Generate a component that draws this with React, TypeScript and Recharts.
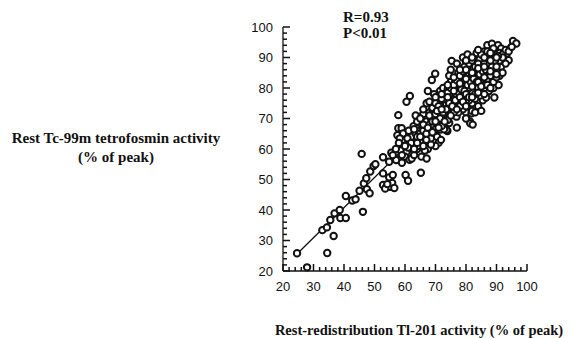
import React from "react";
import { ScatterChart, Scatter, XAxis, YAxis, ReferenceLine } from "recharts";

// Axis ticks (every 2 units, labels every 10)
const axisTicks = [20, 22, 24, 26, 28, 30, 32, 34, 36, 38, 40, 42, 44, 46, 48, 50, 52, 54, 56, 58, 60, 62, 64, 66, 68, 70, 72, 74, 76, 78, 80, 82, 84, 86, 88, 90, 92, 94, 96, 98, 100];

// Regression line end points
const fitX = [25, 96];
const fitY = [26, 96];

// [Tl-201, Tc-99m] pairs
const lowPoints: [number, number][] = [
  [24.6, 25.8], [27.9, 21.2], [34.5, 25.9], [36.6, 31.5], [32.9, 33.4], [34.4, 34.3], [35.5, 36.7],
  [36.9, 38.9], [38.6, 40.0], [38.8, 37.4], [40.6, 37.4], [46.2, 39.4], [40.6, 44.6], [42.7, 43.1],
  [43.8, 43.5], [45.1, 46.3], [46.5, 48.7], [47.5, 46.8], [48.4, 45.5], [47.3, 50.4], [48.6, 52.6],
  [49.7, 54.4], [45.8, 58.4], [52.8, 48.2], [53.9, 47.6], [55.2, 47.6], [55.8, 48.9], [54.8, 50.7],
  [52.8, 52.0], [52.8, 57.3], [55.5, 58.8], [54.8, 55.8], [57.1, 56.4], [58.8, 57.5], [60.2, 51.5],
  [61.0, 49.6], [50.3, 55.0], [53.5, 47.0], [56.0, 51.5], [54.2, 48.5], [56.5, 47.2],
];

const midPoints: [number, number][] = [
  [57.5, 64.5], [57.8, 66.8], [58.9, 66.8], [59.4, 65.1], [58.3, 63.5], [57.8, 71.1], [60.5, 75.5],
  [61.6, 77.4], [59.5, 61.0], [60.5, 59.0], [61.0, 62.0], [62.0, 64.0], [62.5, 60.0], [60.0, 57.5],
  [61.5, 56.5], [58.5, 59.5], [62.2, 56.9], [63.0, 58.0], [59.0, 55.5], [61.2, 66.0], [62.8, 67.5],
  [63.5, 65.0], [60.8, 63.5], [63.5, 62.0], [64.0, 60.0], [64.5, 63.5], [65.0, 66.0], [65.5, 68.0],
  [64.0, 69.0], [63.5, 71.0], [66.0, 71.5], [66.5, 64.0], [67.0, 62.0], [67.5, 60.0], [65.4, 57.5],
  [67.1, 56.9], [66.5, 59.5], [68.0, 65.0], [68.5, 67.5], [67.0, 69.0], [68.0, 72.0], [67.1, 75.0],
  [69.0, 73.0], [69.5, 70.0], [64.8, 65.0], [66.0, 66.5], [65.2, 52.2], [68.8, 82.6], [69.9, 84.7],
  [68.0, 75.5], [67.5, 79.0], [69.5, 78.0], [70.0, 68.0], [70.5, 64.0], [71.0, 62.0], [71.5, 66.4],
  [72.0, 70.0], [72.5, 73.0], [73.0, 75.0], [73.9, 65.9], [73.6, 66.2], [72.0, 69.0], [74.0, 71.0],
  [74.5, 74.0], [70.0, 72.0], [71.0, 76.0], [71.5, 79.0], [72.5, 80.0], [73.5, 77.0], [74.0, 79.5],
  [75.0, 82.0], [75.3, 88.9], [75.0, 86.0], [74.5, 84.0], [75.5, 76.0], [75.0, 72.0], [73.0, 68.0],
  [74.5, 68.5], [70.5, 74.0], [72.8, 66.5], [71.8, 63.0], [70.0, 61.0], [72.0, 72.0], [73.5, 71.0],
  [69.8, 66.0], [66.2, 62.5], [64.2, 61.0], [62.0, 60.5], [68.5, 61.5], [70.8, 70.5], [71.2, 72.8],
];

const highPoints: [number, number][] = [
  [76.0, 78.0], [76.9, 70.6], [77.0, 74.0], [77.5, 80.0], [78.0, 83.0], [78.5, 86.0], [77.0, 88.0],
  [79.0, 79.0], [79.5, 75.0], [80.0, 72.0], [80.5, 77.0], [81.0, 81.0], [81.8, 71.7], [81.3, 69.0],
  [81.4, 68.4], [82.2, 68.0], [82.0, 75.0], [82.5, 78.0], [81.0, 85.0], [80.0, 88.0], [79.0, 90.0],
  [80.5, 91.0], [76.5, 82.0], [78.0, 76.0], [79.0, 73.0], [80.0, 70.0], [82.0, 83.0], [81.5, 87.0],
  [77.5, 85.0], [78.5, 81.0], [80.0, 84.0], [76.0, 74.0], [77.0, 67.0], [79.0, 84.5], [81.0, 76.0],
  [82.0, 72.5], [83.0, 80.0], [83.5, 84.0], [84.0, 86.0], [84.5, 82.0], [85.0, 79.0], [85.5, 76.0],
  [84.0, 74.0], [83.0, 72.0], [86.0, 83.0], [86.5, 87.0], [87.0, 90.0], [86.6, 76.9], [89.3, 76.9],
  [88.0, 85.0], [88.5, 82.0], [89.0, 80.0], [87.5, 79.0], [85.0, 89.0], [84.0, 91.0], [86.0, 92.0],
  [88.0, 93.0], [89.0, 91.0], [89.5, 88.0], [90.0, 86.0], [87.0, 84.0], [85.5, 84.5], [83.5, 88.0],
  [84.5, 77.5], [86.0, 80.0], [88.0, 88.0], [90.0, 93.0], [90.5, 90.0], [90.7, 81.0], [91.0, 84.0],
  [91.5, 87.0], [92.0, 89.0], [92.5, 92.0], [93.4, 91.3], [94.0, 89.1], [95.4, 95.4], [96.5, 94.6],
  [91.0, 90.0], [92.0, 85.0], [93.0, 88.0], [90.5, 94.0], [91.5, 93.0], [87.0, 94.0], [88.5, 94.5],
  [83.0, 76.5], [85.0, 72.5], [87.5, 82.0], [89.5, 84.0], [86.0, 89.5], [78.0, 78.5], [80.5, 80.0],
  [82.5, 86.5], [84.5, 89.5], [77.5, 72.0], [79.5, 87.0], [83.5, 91.5], [89.0, 86.5], [90.0, 89.0],
];

const corePoints: [number, number][] = [
  [66, 66], [67, 67.5], [68, 68], [68.5, 70], [69, 69], [69.5, 71.5], [70, 70], [70.5, 69], [71, 71],
  [71.5, 73], [72, 74], [72.5, 71], [73, 73], [73.5, 74.5], [74, 76], [74.5, 72.5], [75, 75], [75.5, 78],
  [76, 76], [76.5, 77.5], [77, 79], [77.5, 77], [78, 80], [78.5, 78], [79, 81], [79.5, 82.5], [80, 80],
  [80.5, 82], [81, 83], [81.5, 80.5], [82, 81.5], [82.5, 84], [83, 83], [83.5, 85], [84, 84], [84.5, 86],
  [85, 85], [85.5, 87], [86, 86], [86.5, 84], [87, 88], [87.5, 86.5], [88, 87], [88.5, 89], [89, 88],
  [89.5, 90], [90, 91], [90.5, 88.5], [91, 91.5], [91.5, 90], [92, 91], [93, 92.5], [94, 92], [95, 93.5],
  [69, 67], [70, 66.5], [71, 68], [72, 67.5], [73, 70], [74, 69.5], [75, 73], [76, 72], [77, 76], [78, 74],
  [79, 77], [80, 76], [81, 78.5], [82, 79], [83, 81.5], [84, 80], [85, 82], [86, 81], [87, 83], [88, 84],
  [89, 82], [90, 83.5], [68, 71], [69, 73.5], [70, 75], [71, 74], [72, 76.5], [73, 78], [74, 78.5],
  [75, 80], [76, 81], [77, 82.5], [78, 84], [79, 85.5], [80, 86], [81, 88], [82, 89], [83, 87], [84, 88],
  [85, 91], [86, 88], [87, 92], [88, 91], [89, 93], [64, 64], [65, 62.5], [66, 68], [67, 65], [63, 66.5],
  [65, 70], [66, 73], [62, 62], [61, 60.5], [60, 61], [59, 58], [58, 62], [57, 60], [56, 58], [65, 64],
  [68.5, 63.5], [67.5, 67],
];

const densePoints: [number, number][] = [
  [70, 71.5], [71, 69.5], [72, 71], [73, 72], [74, 73.5], [75, 74], [76, 75], [77, 77.5], [78, 79],
  [79, 78], [80, 79], [81, 80], [82, 82], [83, 82.5], [84, 83], [85, 84], [86, 85], [87, 86], [88, 86],
  [89, 87], [90, 88], [91, 89], [92, 90], [70.5, 72.5], [71.5, 70], [72.5, 72], [73.5, 73], [74.5, 75],
  [75.5, 74], [76.5, 76], [77.5, 78.5], [78.5, 79.5], [79.5, 79], [80.5, 81], [81.5, 82], [82.5, 83],
  [83.5, 82], [84.5, 84.5], [85.5, 85.5], [86.5, 86], [87.5, 87.5], [88.5, 87], [89.5, 89], [90.5, 90.5],
  [76, 79], [78, 81.5], [80, 83], [82, 85], [84, 86.5], [86, 87], [88, 89], [90, 90], [74, 77], [72, 73],
  [70, 69], [78, 77], [80, 78], [82, 80.5], [84, 82], [86, 83.5], [88, 85.5], [90, 87], [85, 80.5],
  [87, 81], [83, 78], [81, 77], [79, 75.5], [77, 73], [75, 71], [73, 69], [71, 67], [69, 65.5], [67, 63],
  [66, 61], [64, 62], [63, 60], [80, 74], [82, 77], [84, 78.5], [86, 78], [88, 80], [90, 84.5], [76, 83.5],
  [78, 86], [80, 89], [82, 90], [84, 92.5], [86, 90], [88, 91.5], [74, 81], [72, 78], [70, 77],
];

const points = [...lowPoints, ...midPoints, ...highPoints, ...corePoints, ...densePoints].map(([x, y]) => ({ x, y }));

// Tick mark positions on each axis, placed through the chart scales
const xTickMarks = axisTicks.map((v) => ({ x: v, y: 20, major: v % 10 === 0 }));
const yTickMarks = axisTicks.map((v) => ({ x: 20, y: v, major: v % 10 === 0 }));

const tickFont = "'Liberation Sans', Arial, sans-serif";

const renderXTick = (props: any) => {
  const v = Number(props.payload.value);
  if (v % 10 !== 0) return <g key={`xt-${v}`} />;
  return (
    <text key={`xt-${v}`} x={props.x} y={props.y} dy="0.35em" textAnchor="middle" fontFamily={tickFont} fontSize={13} fill="#111">
      {v}
    </text>
  );
};

const renderYTick = (props: any) => {
  const v = Number(props.payload.value);
  if (v % 10 !== 0) return <g key={`yt-${v}`} />;
  return (
    <text key={`yt-${v}`} x={props.x} y={props.y} dy="0.35em" textAnchor="end" fontFamily={tickFont} fontSize={13} fill="#111">
      {v}
    </text>
  );
};

const XMark = (props: any) => {
  const { cx, cy, payload } = props;
  const len = payload && payload.major ? 7 : 4;
  return <line x1={cx} x2={cx} y1={cy} y2={cy - len} stroke="#111" strokeWidth={1.5} />;
};

const YMark = (props: any) => {
  const { cx, cy, payload } = props;
  const len = payload && payload.major ? 7 : 4;
  return <line x1={cx} x2={cx + len} y1={cy} y2={cy} stroke="#111" strokeWidth={1.5} />;
};

const Dot = (props: any) => {
  const { cx, cy } = props;
  return <circle cx={cx} cy={cy} r={3.2} fill="#fff" stroke="#111" strokeWidth={2} />;
};

const serif = "'Liberation Serif', 'Times New Roman', serif";

export default function App() {
  return (
    <div style={{ width: 565, height: 330, background: "#fff" }}>
      <style>{".recharts-surface{overflow:visible}"}</style>
      <ScatterChart width={565} height={330} margin={{ top: 19, right: 46, bottom: 37, left: 235 }}>
        <XAxis
          type="number"
          dataKey="x"
          domain={[20, 100]}
          ticks={axisTicks}
          interval={0}
          height={30}
          tickSize={0}
          tickMargin={15}
          tickLine={false}
          tick={renderXTick}
          axisLine={{ stroke: "#111", strokeWidth: 1.3 }}
        />
        <YAxis
          type="number"
          dataKey="y"
          domain={[20, 100]}
          ticks={axisTicks}
          interval={0}
          width={40}
          tickSize={0}
          tickMargin={10}
          tickLine={false}
          tick={renderYTick}
          axisLine={{ stroke: "#111", strokeWidth: 1.3 }}
        />
        <Scatter data={xTickMarks} shape={<XMark />} isAnimationActive={false} />
        <Scatter data={yTickMarks} shape={<YMark />} isAnimationActive={false} />
        <ReferenceLine
          segment={[{ x: fitX[0], y: fitY[0] }, { x: fitX[1], y: fitY[1] }]}
          stroke="#111"
          strokeWidth={1.3}
        />
        <Scatter data={points} shape={<Dot />} isAnimationActive={false} />
        <text x={335} y={14} fontFamily={serif} fontWeight="bold" fontSize={15} fill="#111">R=0.93</text>
        <text x={335} y={30} fontFamily={serif} fontWeight="bold" fontSize={15} fill="#111">P&lt;0.01</text>
        <text x={108} y={135} textAnchor="middle" fontFamily={serif} fontWeight="bold" fontSize={15} fill="#111">Rest Tc-99m tetrofosmin activity</text>
        <text x={108} y={154} textAnchor="middle" fontFamily={serif} fontWeight="bold" fontSize={15} fill="#111">(% of peak)</text>
        <text x={411} y={327} textAnchor="middle" fontFamily={serif} fontWeight="bold" fontSize={14.5} fill="#111">Rest-redistribution Tl-201 activity (% of peak)</text>
      </ScatterChart>
    </div>
  );
}
